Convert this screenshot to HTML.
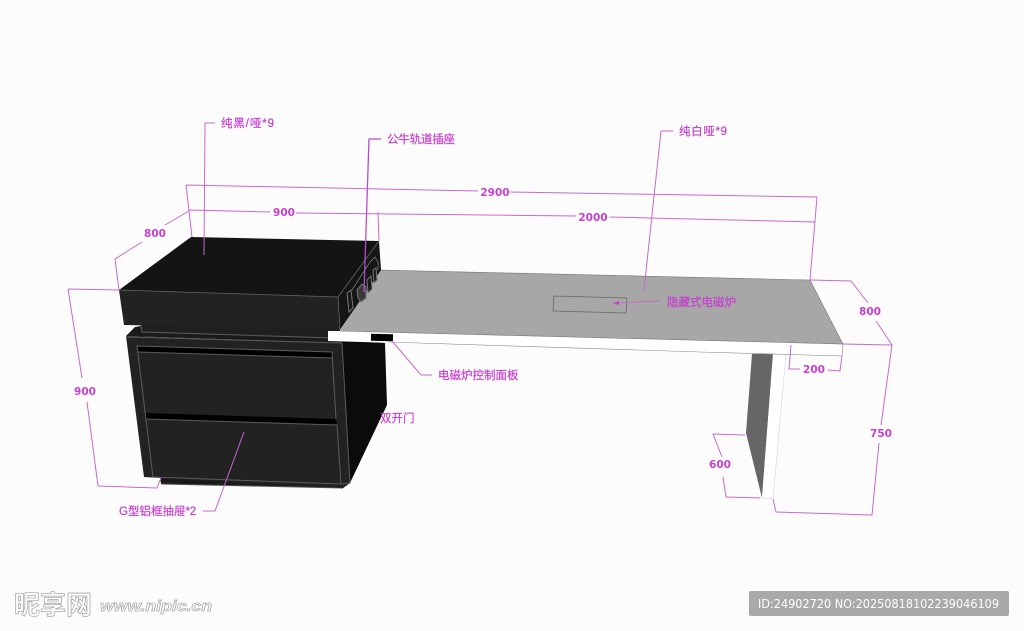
<!DOCTYPE html>
<html><head><meta charset="utf-8"><style>
html,body{margin:0;padding:0;background:#fdfcfd}
svg{display:block}
.l{stroke:#c968d0;stroke-width:1;fill:none}
.t{font-family:"Liberation Sans","Noto Sans CJK SC",sans-serif;fill:#c63fd0;stroke:#c63fd0;stroke-width:.2;font-size:11.5px}
.n{font-family:"DejaVu Sans",sans-serif;font-weight:bold;fill:#c63fd0;font-size:10.5px;text-anchor:middle}
.g{stroke:#5c5c5c;stroke-width:1;fill:none}
.soft{filter:blur(.3px)}
</style></head><body>
<svg width="1024" height="631" viewBox="0 0 1024 631" xmlns="http://www.w3.org/2000/svg">
<rect width="1024" height="631" fill="#fdfcfd"/>
<g class="soft">
<!-- leg -->
<polygon points="752,354 773,354 762,498 746,433" fill="#666"/>
<polygon points="773,354 786,354 773,499 762,498" fill="#fff"/>
<path d="M786,354 L773,499 L762,498" stroke="#ccc" stroke-width=".5" fill="none"/>

<!-- cabinet side -->
<polygon points="340,340 385,343 387,405 350,483" fill="#0b0b0b"/>
<!-- cabinet top and base -->
<polygon points="126,336 135,327 141,326 342,335 342,343" fill="#1a1a1a"/>
<polygon points="160,476 350,483 343,488 161,484" fill="#1a1a1a"/>
<path d="M161,484 L343,488" stroke="#555" stroke-width="1"/>
<!-- cabinet front -->
<polygon points="126,336 342,343 350,483 343,488 160,478 144,477" fill="#222"/>
<path class="g" d="M126,337 L342,343 L350,483 L341,484"/>
<!-- drawers -->
<polygon points="137,346 332,352 332,358 137,352" fill="#000"/>
<polygon points="146,413 336,419 337,425 146,419" fill="#000"/>
<path class="g" d="M137,346 L332,352 L336,419 M137,346 L153,477 M137,352 L332,358 M146,419 L337,425 L341,484 L153,477"/>

<!-- strip below slab -->
<polygon points="141,324 340,328 340,338 141,333" fill="#1f1f1f"/>
<path class="g" d="M141,325 L142,332 L335,338"/>

<!-- table top -->
<polygon points="379,270 810,280 843,344 340,331" fill="#a7a7a7"/>
<polygon points="328,331 340,331 843,344 842,356 786,354 700,352 328,341" fill="#fff"/>
<path d="M379,270 L810,280 L843,344 L340,331" stroke="#777" stroke-width=".6" fill="none"/>
<path d="M388,342 L700,352 L842,356 L843,344" stroke="#888" stroke-width=".6" fill="none"/>
<rect x="371" y="334" width="22" height="7" fill="#000" transform="rotate(1 382 337)"/>
<polygon points="554,296 627,298 626,313 553,311" fill="#a7a7a7" stroke="#666" stroke-width=".8"/>

<!-- slab -->
<polygon points="191,237 379,241 338,297 119,290" fill="#141414"/>
<polygon points="119,290 338,297 340,330 124,325" fill="#222"/>
<polygon points="338,297 379,241 381,270 340,330" fill="#151515"/>
<path d="M119,290 L338,297 L340,330 M338,297 L379,241" stroke="#666" stroke-width=".8" fill="none"/>
<!-- sockets -->
<g stroke="#777" stroke-width="1" fill="#1a1a1a">
<path d="M347,293 L351,290 L353,308 L349,312 Z"/>
<path d="M357,290 L362,284 L366,287 L366,298 L361,302 L358,298Z" fill="#3a3a3a"/>
<path d="M367,280 L371,276 L372,289 L368,293 Z"/>
<path d="M373,270 L376,268 L377,280 L374,283 Z"/>
</g>
<path d="M352,290 L370,262 L375,257 L378,262 L378,270" stroke="#777" fill="none" stroke-width=".8"/>

<!-- leader lines -->
<g class="l">
<path d="M215,123 L205,123 L204,255"/>
<path d="M381,139 L369,139 L364,292" stroke="#b04fc8" stroke-width="1.3"/>
<path d="M673,131 L661,131 L644,290"/>
<path d="M660,301 L613,303"/>
<path d="M392,341 L421,375 L432,375"/>
<path d="M244,432 L215,511 L203,511"/>
<!-- 2900 -->
<path d="M186,185 L478,191 M510,192 L817,197 M186,185 L192,237 M817,197 L810,280"/>
<!-- 900/2000 -->
<path d="M189,210 L270,212 M296,213 L576,216 M610,217 L815,222 M378,212 L379,241"/>
<!-- 800 left -->
<path d="M189,211 L165,225 M142,242 L115,259 L119,290"/>
<!-- 900 height -->
<path d="M68,289 L119,290 M68,289 L82,378 M87,402 L98,486 L157,488 L161,478"/>
<!-- 800 right -->
<path d="M810,280 L851,281 L868,303 M876,321 L892,345 L843,344"/>
<!-- 750 -->
<path d="M892,345 L881,425 M879,443 L872,515 L776,512 L773,499"/>
<!-- 200 -->
<path d="M791,345 L789,369 L800,369 M828,370 L840,371 L842,356"/>
<!-- 600 -->
<path d="M745,435 L713,434 L722,457 M723,477 L726,497 L760,498"/>
</g>
<polygon points="613,303 619,301 619,305" fill="#c63fd0"/>
</g>

<!-- labels -->
<text class="t" x="221" y="127" textLength="53" lengthAdjust="spacing">纯黑/哑*9</text>
<text class="t" x="387" y="143" textLength="68" lengthAdjust="spacing">公牛轨道插座</text>
<text class="t" x="679" y="135" textLength="48" lengthAdjust="spacing">纯白哑*9</text>
<text class="t" x="667" y="306">隐藏式电磁炉</text>
<text class="t" x="438" y="379">电磁炉控制面板</text>
<text class="t" x="380" y="422">双开门</text>
<text class="t" x="119" y="515">G型铝框抽屉*2</text>
<text class="n" x="495" y="196">2900</text>
<text class="n" x="284" y="216">900</text>
<text class="n" x="593" y="221">2000</text>
<text class="n" x="155" y="237">800</text>
<text class="n" x="85" y="395">900</text>
<text class="n" x="870" y="315">800</text>
<text class="n" x="881" y="437">750</text>
<text class="n" x="814" y="373">200</text>
<text class="n" x="720" y="468">600</text>

<!-- watermark -->
<text x="14" y="614" font-family="'Noto Sans CJK SC',sans-serif" font-weight="bold" font-size="26" fill="#fff" stroke="#aaa" stroke-width=".8">昵享网</text>
<text x="100" y="611" font-family="'Liberation Sans',sans-serif" font-weight="bold" font-style="italic" font-size="15" fill="#fff" stroke="#aaa" stroke-width=".7" textLength="112" lengthAdjust="spacingAndGlyphs">www.nipic.cn</text>
<rect x="749" y="591" width="260" height="25" rx="2" fill="#a9a9a9"/>
<text x="758" y="608" font-family="'DejaVu Sans',sans-serif" font-size="12.4" fill="#fff" textLength="241" lengthAdjust="spacingAndGlyphs">ID:24902720 NO:20250818102239046109</text>
</svg>
</body></html>
